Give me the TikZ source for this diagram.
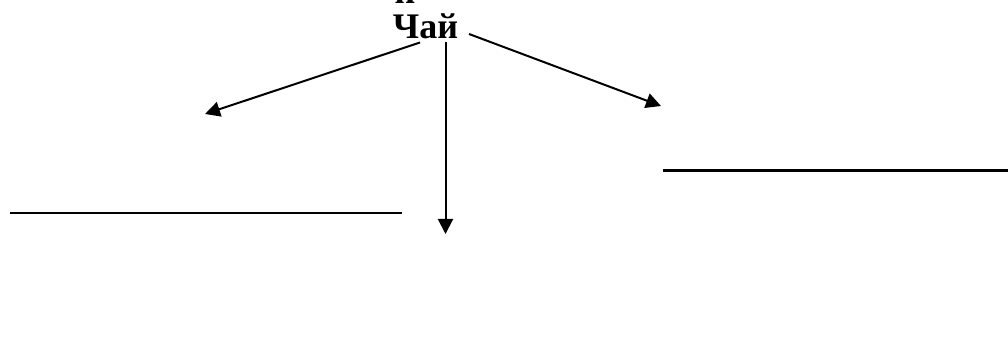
\documentclass[tikz,border=0pt]{standalone}
\usepackage{fontspec}
\setmainfont{Liberation Serif}
\usetikzlibrary{arrows.meta}
\tikzset{
  link/.style={line width=2pt, -{Triangle[length=15pt,width=15pt]}},
  blank/.style={line width=2.8pt},
  word/.style={font=\fontsize{36pt}{40pt}\selectfont\bfseries, inner sep=0pt, anchor=base}
}
\begin{document}
\begin{tikzpicture}[x=1pt,y=1pt]
  \clip (0,0) rectangle (1008,340);
  % tail of the line above
  \node[word] (prev) at (405,336.5) {и};
  % the central word
  \node[word] (tea) at (425.5,301) {Чай};
  % arrow ends
  \coordinate (sL) at (420,297.5);
  \coordinate (sM) at (445.5,297.5);
  \coordinate (sR) at (469,306);
  \coordinate (tL) at (205,226);
  \coordinate (tM) at (445.5,106);
  \coordinate (tR) at (661,234);
  \draw[link] (sL) -- (tL);
  \draw[link] (sM) -- (tM);
  \draw[link] (sR) -- (tR);
  % blanks to fill in
  \coordinate (b1a) at (10,127);
  \coordinate (b1b) at (402,127);
  \coordinate (b2a) at (663,169.5);
  \coordinate (b2b) at (1008,169.5);
  \draw[blank] (b1a) -- (b1b);
  \draw[blank] (b2a) -- (b2b);
\end{tikzpicture}
\end{document}
